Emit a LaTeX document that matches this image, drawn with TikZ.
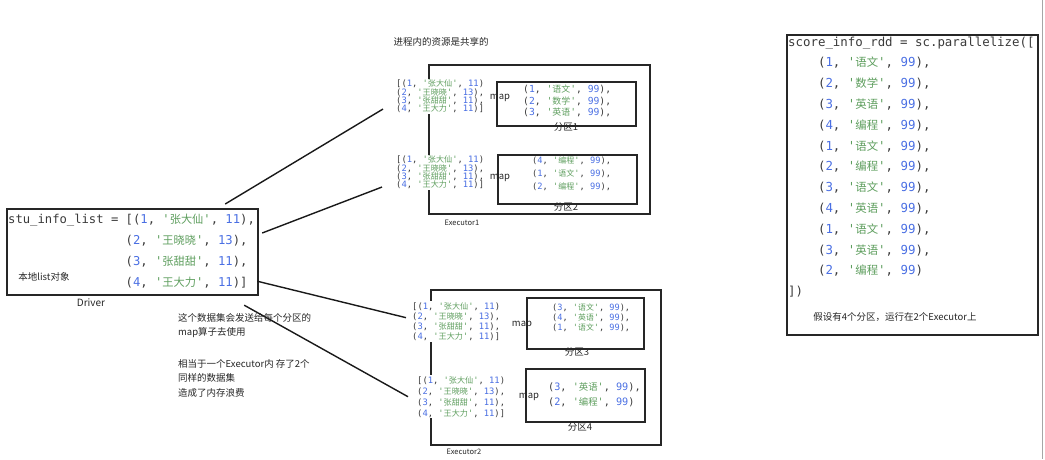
\documentclass[tikz,border=0pt]{standalone}
\usepackage{fontspec}
\setmonofont{DejaVu Sans Mono}
\newfontfamily\cjk{Noto Sans CJK SC}
\newfontfamily\cjkcode[Scale=0.92]{Noto Sans CJK SC}
\usetikzlibrary{
    positioning
}
\definecolor{numblue}{HTML}{4A6FE3}
\definecolor{strgreen}{HTML}{5E9E5E}
\definecolor{codegray}{HTML}{3A3A3A}
\definecolor{framegray}{HTML}{262626}
\newcommand{\nb}[1]{\textcolor{numblue}{#1}}
\newcommand{\st}[1]{\textcolor{strgreen}{'{\cjkcode #1}'}}
\newcommand{\tup}[3]{(\nb{#1}, \st{#2}, \nb{#3})}
\newcommand{\ind}{\phantom{xxxx}}
\newcommand{\stulist}{%
    [\tup{1}{张大仙}{11}\\
    \tup{2}{王晓晓}{13},\\
    \tup{3}{张甜甜}{11},\\
    \tup{4}{王大力}{11}]}
\tikzset{
    box/.style={
        draw=framegray,
        line width=1.8pt,
        anchor=north west,
        inner sep=0pt
    },
    code/.style={
        font=\ttfamily\fontsize{12.4}{20.8}\selectfont,
        text=codegray,
        align=left,
        anchor=north west,
        inner sep=0pt
    },
    stulines/.style={
        font=\ttfamily\fontsize{8.8}{#1}\selectfont,
        text=codegray,
        align=left,
        anchor=north west,
        fill=white,
        inner sep=1pt
    },
    partlines/.style n args={2}{
        font=\ttfamily\fontsize{#1}{#2}\selectfont,
        text=codegray,
        align=left,
        anchor=north west,
        inner sep=0pt
    },
    lbl/.style={
        font=\cjk\fontsize{9.5}{14.5}\selectfont,
        text=black!85,
        inner sep=0pt
    },
    link/.style={
        draw=black!90,
        line width=1.4pt
    }
}

\begin{document}
\begin{tikzpicture}[
    x=1pt,
    y=-1pt
]
    \useasboundingbox (0,0) rectangle (1045,459);

    % Driver
    \node[box, line width=2.2pt, minimum width=251pt, minimum height=86pt] (drv) at (6,208) {};
    \node[code, font=\ttfamily\fontsize{12.2}{20.8}\selectfont] (drvcode) at (8,214) {%
        stu\_info\_list = [\tup{1}{张大仙}{11},\\
        \phantom{stu\_info\_list = }\tup{2}{王晓晓}{13},\\
        \phantom{stu\_info\_list = }\tup{3}{张甜甜}{11},\\
        \phantom{stu\_info\_list = }\tup{4}{王大力}{11}]};
    \node[lbl]              (local)  at (44,277)  {本地list对象};
    \node[lbl, font=\cjk\fontsize{10}{12}\selectfont] (drvlbl) at (91,303) {Driver};

    % Executor
    \node[box, minimum width=221pt, minimum height=149pt] (ex1) at (428,64)  {};
    \node[box, minimum width=230pt, minimum height=155pt] (ex2) at (430,289) {};
    \node[lbl, font=\cjk\fontsize{7.5}{9}\selectfont] (ex1lbl) at (462,223) {Executor1};
    \node[lbl, font=\cjk\fontsize{7.5}{9}\selectfont] (ex2lbl) at (464,452) {Executor2};
    \node[lbl] (title) at (441,42) {进程内的资源是共享的};

    % Datensatz je Partition
    \node[stulines=8.2]  (list1) at (395,79)  {\stulist};
    \node[stulines=8.2]  (list2) at (395,155) {\stulist};
    \node[stulines=10.3] (list3) at (411,301) {\stulist};
    \node[stulines=11]   (list4) at (416,375) {\stulist};

    % Partitionen
    \node[box, minimum width=139pt, minimum height=44pt] (p1) at (496,81)  {};
    \node[box, minimum width=139pt, minimum height=49pt] (p2) at (497,154) {};
    \node[box, minimum width=117pt, minimum height=51pt] (p3) at (526,297) {};
    \node[box, minimum width=119pt, minimum height=53pt] (p4) at (525,368) {};

    \node[partlines={9.7}{11.5}] (p1txt) at (523,85) {%
        \tup{1}{语文}{99},\\ \tup{2}{数学}{99},\\ \tup{3}{英语}{99},};
    \node[partlines={8.7}{13}] (p2txt) at (532,157) {%
        \tup{4}{编程}{99},\\ \tup{1}{语文}{99},\\ \tup{2}{编程}{99},};
    \node[partlines={8.6}{10}] (p3txt) at (552,304) {%
        \tup{3}{语文}{99},\\ \tup{4}{英语}{99},\\ \tup{1}{语文}{99},};
    \node[partlines={10.2}{15}] (p4txt) at (548,382) {%
        \tup{3}{英语}{99},\\ \tup{2}{编程}{99}};

    \node[lbl] (map1) at (500,98)  {map};
    \node[lbl] (map2) at (500,178) {map};
    \node[lbl] (map3) at (522,325) {map};
    \node[lbl] (map4) at (529,397) {map};

    \node[lbl] (p1lbl) at (566,127) {分区1};
    \node[lbl] (p2lbl) at (566,207) {分区2};
    \node[lbl] (p3lbl) at (577,352) {分区3};
    \node[lbl] (p4lbl) at (580,427) {分区4};

    % Verbindungen
    \draw[link] ([shift={(-34pt,4pt)}]drv.north east)   -- ([shift={(-12pt,5pt)}]list1.south west);
    \draw[link] ([shift={(3pt,-25pt)}]drv.north east)   -- ([shift={(-13pt,3pt)}]list2.south west);
    \draw[link] ([shift={(-2pt,15pt)}]drv.south east)   -- ([shift={(-5pt,4pt)}]list3.west);
    \draw[link] ([shift={(-15pt,-9pt)}]drv.south east)  -- ([xshift=-8pt]list4.west);

    % Anmerkung
    \node[lbl, align=left, anchor=north west] (note) at (178,313) {%
        这个数据集会发送给每个分区的\\
        map算子去使用\\[17pt]
        相当于一个Executor内 存了2个\\
        同样的数据集\\
        造成了内存浪费};

    % RDD
    \node[box, line width=2.2pt, minimum width=251pt, minimum height=300pt] (rdd) at (786,34) {};
    \node[code] (rddcode) at (788,36.5) {%
        score\_info\_rdd = sc.parallelize([\\
        \ind\tup{1}{语文}{99},\\
        \ind\tup{2}{数学}{99},\\
        \ind\tup{3}{英语}{99},\\
        \ind\tup{4}{编程}{99},\\
        \ind\tup{1}{语文}{99},\\
        \ind\tup{2}{编程}{99},\\
        \ind\tup{3}{语文}{99},\\
        \ind\tup{4}{英语}{99},\\
        \ind\tup{1}{语文}{99},\\
        \ind\tup{3}{英语}{99},\\
        \ind\tup{2}{编程}{99}\\
        ])};
    \node[lbl] (rddnote) at (895,317) {假设有4个分区，运行在2个Executor上};

    % Rand
    \draw[gray!70, line width=1pt] (1042,0) -- (1042,459);

\end{tikzpicture}
\end{document}
